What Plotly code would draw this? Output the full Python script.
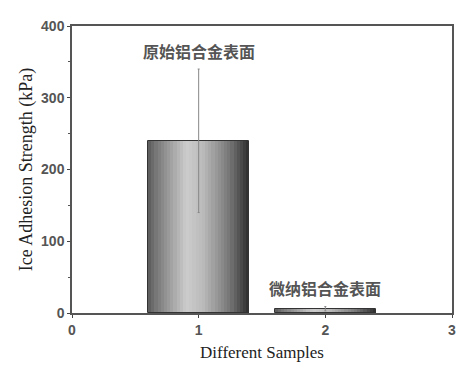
import plotly.graph_objects as go
import numpy as np

samples = [1, 2]
strength = [240, 6]
errors = [100, 3]
labels = ["原始铝合金表面", "微纳铝合金表面"]
label_y = [340, 6]

bar_width = 0.8
n_strips = 32

def shade(t):
    # cylinder-like grey shading: darker edges, highlight left of centre
    pts_t = [0.0, 0.08, 0.38, 0.55, 0.8, 0.93, 1.0]
    pts_v = [90, 120, 205, 185, 120, 70, 45]
    v = int(np.interp(t, pts_t, pts_v))
    return f"rgb({v},{v},{v})"

fig = go.Figure()
sw = bar_width / n_strips
for i in range(n_strips):
    t = (i + 0.5) / n_strips
    fig.add_trace(go.Bar(
        x=samples, y=strength, width=[sw * 1.05] * len(samples),
        offset=-bar_width / 2 + i * sw,
        marker=dict(color=shade(t), line=dict(width=0)),
        showlegend=False, hoverinfo="skip"))

# outline of bars
fig.add_trace(go.Bar(
    x=samples, y=strength, width=bar_width,
    marker=dict(color="rgba(0,0,0,0)", line=dict(color="#333", width=1)),
    error_y=dict(type="data", array=errors, color="#888", thickness=1, width=1),
    showlegend=False))

for xv, yv, txt, off in zip(samples, label_y, labels, [4, 7]):
    fig.add_annotation(x=xv, y=yv, text="<b>" + txt + "</b>", showarrow=False, yshift=off, yanchor="bottom",
                       font=dict(family="Noto Sans CJK SC", size=16, color="#555"))

fig.update_layout(
    width=465, height=366, barmode="overlay", bargap=0,
    margin=dict(l=64, r=21, t=10, b=61),
    paper_bgcolor="white", plot_bgcolor="white",
    xaxis=dict(range=[0, 3], tickvals=[0, 1, 2, 3], ticks="outside", ticklen=3,
               showline=True, linecolor="#555", linewidth=1.5, mirror=True,
               tickfont=dict(family="Liberation Sans", size=14, color="#555", weight="bold"),
               title=dict(text="Different Samples", font=dict(family="Liberation Serif", size=17, color="#222"),
                          standoff=10),
               showgrid=False, zeroline=False),
    yaxis=dict(range=[0, 400], tickvals=[0, 100, 200, 300, 400], ticks="outside", ticklen=3,
               minor=dict(tickvals=[50, 150, 250, 350], ticks="outside", ticklen=2, tickcolor="#555"),
               showline=True, linecolor="#555", linewidth=1.5, mirror=True,
               tickfont=dict(family="Liberation Sans", size=14, color="#555", weight="bold"),
               title=dict(text="Ice Adhesion Strength (kPa)", font=dict(family="Liberation Serif", size=18, color="#222"),
                          standoff=4),
               showgrid=False, zeroline=False),
)
fig.write_html("out.html")
